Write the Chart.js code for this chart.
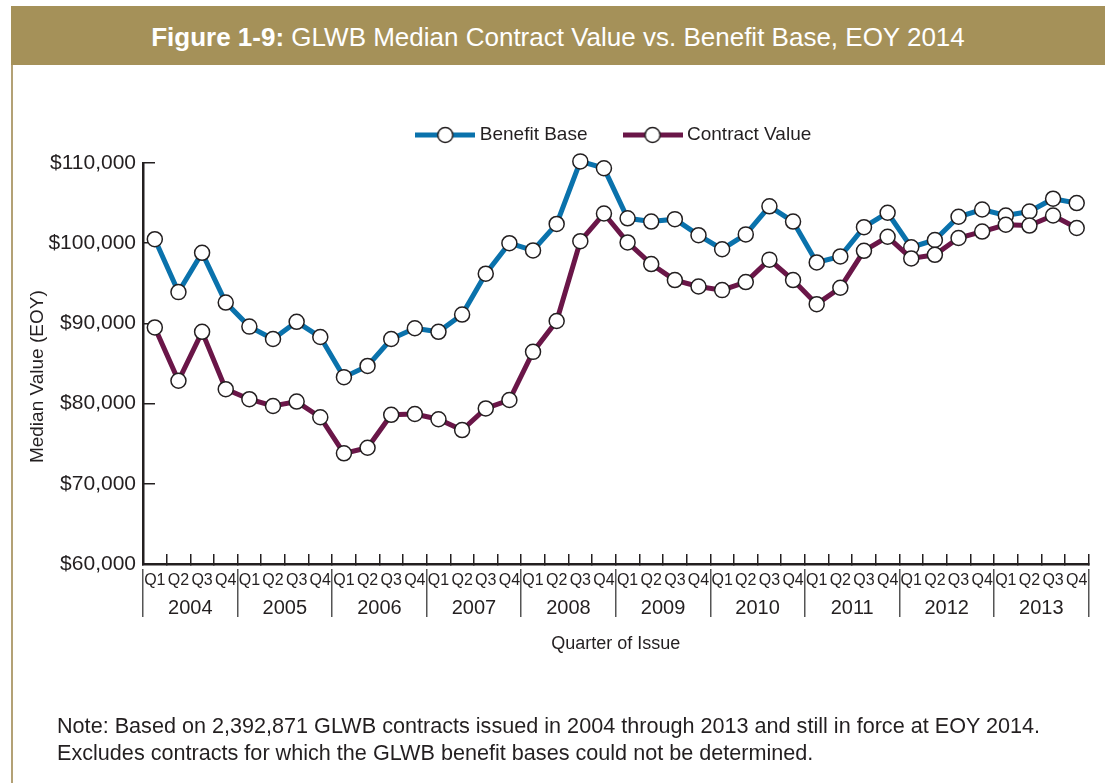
<!DOCTYPE html>
<html>
<head>
<meta charset="utf-8">
<script src="https://cdn.jsdelivr.net/npm/chart.js@4/dist/chart.umd.min.js"></script>
<style>
  html, body { margin: 0; padding: 0; background: #ffffff; }
  body { width: 1105px; height: 783px; position: relative; overflow: hidden; }
  #bar { position: absolute; left: 11px; top: 6px; width: 1094px; height: 59px; background: #a59159;
         color: #ffffff; font-family: "Liberation Sans", Arial, sans-serif; font-size: 26px;
         text-align: center; line-height: 62px; white-space: nowrap; }
  #bar b { font-weight: bold; }
  #leftline { position: absolute; left: 11px; top: 65px; width: 2px; height: 718px; background: #b3a175; }
  #note { position: absolute; left: 57px; top: 712px; font-family: "Liberation Sans", Arial, sans-serif;
          font-size: 19px; line-height: 27px; color: #231f20; white-space: nowrap; }
  #wrap { position: absolute; left: 0; top: 0; width: 1105px; height: 783px; }
</style>
</head>
<body>
<div id="bar"><b>Figure 1-9:</b> GLWB Median Contract Value vs. Benefit Base, EOY 2014</div>
<div id="leftline"></div>
<div id="wrap"><canvas id="c"></canvas></div>
<div id="note"><span id="n1">Note: Based on 2,392,871 GLWB contracts issued in 2004 through 2013 and still in force at EOY 2014.</span><br><span id="n2">Excludes contracts for which the GLWB benefit bases could not be determined.</span></div>
<script>
const years = ['2004','2005','2006','2007','2008','2009','2010','2011','2012','2013'];
const quarters = ['Q1','Q2','Q3','Q4'];
const categories = years.flatMap(y => quarters.map(q => q));

const benefitBase = [100500, 93900, 98800, 92600, 89600, 88050, 90200, 88300,
  83300, 84700, 88050, 89400, 88950, 91100, 96200, 100000,
  99100, 102400, 110200, 109350, 103100, 102700, 103000, 101000,
  99250, 101100, 104600, 102700, 97600, 98350, 102000, 103800,
  99500, 100400, 103300, 104200, 103450, 103950, 105550, 105000];

const contractValue = [89500, 82850, 88950, 81800, 80550, 79700, 80250, 78300,
  73800, 74500, 78600, 78700, 78050, 76700, 79400, 80450,
  86450, 90300, 100250, 103700, 100100, 97400, 95400, 94600,
  94150, 95150, 97950, 95400, 92400, 94450, 99050, 100800,
  98100, 98550, 100650, 101450, 102300, 102200, 103450, 101900];

const yTicks = [60000, 70000, 80000, 90000, 100000, 110000];

const INK = '#231f20';
const BLUE = '#0a72ac';
const PURPLE = '#6a1648';

// fit the note's first line to the reference width
(function fitNote() {
  const n1 = document.getElementById('n1');
  const note = document.getElementById('note');
  const w = n1.getBoundingClientRect().width;
  if (w > 0) note.style.fontSize = (19 * 983 / w).toFixed(2) + 'px';
})();

Chart.defaults.font.family = '"Liberation Sans", Arial, sans-serif';
Chart.defaults.color = INK;

function makeMarker(color) {
  const c = document.createElement('canvas');
  c.width = 60; c.height = 20;
  const g = c.getContext('2d');
  g.strokeStyle = color; g.lineWidth = 5;
  g.beginPath(); g.moveTo(0, 10); g.lineTo(60, 10); g.stroke();
  g.beginPath(); g.arc(30, 10, 7.5, 0, Math.PI * 2);
  g.fillStyle = '#ffffff'; g.fill();
  g.strokeStyle = INK; g.lineWidth = 1.5; g.stroke();
  return c;
}

const legendSpacer = {
  id: 'legendSpacer',
  beforeLayout(chart) {
    const lg = chart.legend;
    if (lg && !lg._patched) {
      const orig = lg.fit;
      lg.fit = function () { orig.call(this); this.height = 77.5; };
      lg._patched = true;
    }
  }
};

new Chart(document.getElementById('c'), {
  type: 'line',
  data: {
    labels: categories,
    datasets: [
      { label: 'Benefit Base', data: benefitBase, borderColor: BLUE, borderWidth: 5,
        pointRadius: 7.5, pointHoverRadius: 7.5, pointBorderWidth: 1.5, pointBorderColor: INK,
        pointBackgroundColor: '#ffffff', tension: 0, clip: false, order: 1 },
      { label: 'Contract Value', data: contractValue, borderColor: PURPLE, borderWidth: 5,
        pointRadius: 7.5, pointHoverRadius: 7.5, pointBorderWidth: 1.5, pointBorderColor: INK,
        pointBackgroundColor: '#ffffff', tension: 0, clip: false, order: 0 }
    ]
  },
  options: {
    responsive: true,
    maintainAspectRatio: false,
    animation: false,
    devicePixelRatio: 1,
    layout: { padding: { top: 85.5, left: 0, right: 10.7, bottom: 126 } },
    plugins: {
      tooltip: { enabled: false },
      legend: {
        display: true,
        position: 'top',
        fullSize: false,
        labels: {
          usePointStyle: true,
          pointStyleWidth: 50,
          padding: 40,
          color: INK,
          font: { size: 19 },
          generateLabels(chart) {
            return chart.data.datasets.map((ds, i) => ({
              text: ds.label,
              pointStyle: makeMarker(ds.borderColor),
              datasetIndex: i,
              hidden: false,
              lineWidth: 0,
              fontColor: INK
            }));
          }
        }
      }
    },
    scales: {
      x: {
        type: 'category',
        offset: true,
        weight: 0,
        grid: { offset: true, drawOnChartArea: false, tickLength: -10, color: INK, lineWidth: 1.5 },
        border: { display: true, color: INK, width: 2.5 },
        ticks: { autoSkip: false, maxRotation: 0, minRotation: 0, padding: 17.4, font: { size: 16 }, color: INK },
        afterFit(s) { s.height = 30; }
      },
      x2: {
        type: 'category',
        labels: years,
        offset: true,
        position: 'bottom',
        weight: 1,
        grid: { offset: true, drawOnChartArea: false, tickLength: -25, color: '#555555', lineWidth: 1.5 },
        border: { display: false },
        ticks: { autoSkip: false, maxRotation: 0, minRotation: 0, padding: 27, font: { size: 20 }, color: INK },
        afterFit(s) { s.height = 23; }
      },
      x3: {
        type: 'category',
        labels: years,
        offset: true,
        position: 'bottom',
        weight: 2,
        grid: { offset: true, drawOnChartArea: false, tickLength: -23, color: '#555555', lineWidth: 1.5 },
        border: { display: false },
        ticks: { display: false, autoSkip: false, maxRotation: 0, minRotation: 0 },
        title: { display: true, text: 'Quarter of Issue', font: { size: 18 }, color: INK, padding: { top: 0, bottom: 2.2 } },
        afterFit(s) { s.height = 40; }
      },
      y: {
        min: 60000,
        max: 110000,
        afterBuildTicks(s) { s.ticks = yTicks.map(v => ({ value: v })); },
        grid: { drawOnChartArea: false, tickLength: -12, color: INK, lineWidth: 1.5 },
        border: { display: true, color: INK, width: 2.5 },
        ticks: { padding: 19, font: { size: 21 }, color: INK,
                 callback: v => '$' + Number(v).toLocaleString('en-US') },
        title: { display: true, text: 'Median Value (EOY)     ', font: { size: 19 }, color: INK, padding: { top: 26.6, bottom: 0 } },
        afterFit(s) { s.width = 143; }
      }
    }
  },
  plugins: [legendSpacer]
});
</script>
</body>
</html>
